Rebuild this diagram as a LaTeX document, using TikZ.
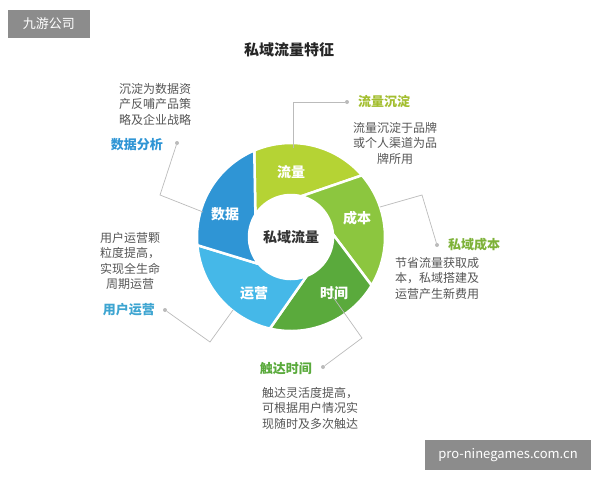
\documentclass[tikz,border=0pt]{standalone}
\usepackage{fontspec}
\setmainfont{Noto Sans CJK SC}
\usetikzlibrary{calc}
\definecolor{cA}{HTML}{B5D334}
\definecolor{cB}{HTML}{8CC63F}
\definecolor{cC}{HTML}{5AAA3C}
\definecolor{cD}{HTML}{45B8E8}
\definecolor{cE}{HTML}{2F95D5}
\definecolor{txt}{HTML}{555555}
\definecolor{lnc}{HTML}{BBBBBB}
\begin{document}
\begin{tikzpicture}[x=1pt,y=-1pt,
  body/.style={text=txt,font=\fontsize{12}{15.5}\selectfont,align=center,inner sep=0},
  lab/.style={font=\fontsize{13}{15}\selectfont\bfseries,inner sep=0},
  seg/.style={font=\fontsize{14}{15}\selectfont\bfseries,text=white,inner sep=0},
  call/.style={draw=lnc,line width=0.7pt},
  dotc/.style={circle,fill=lnc,inner sep=0,minimum size=4pt}]
\useasboundingbox (0,0) rectangle (600,480);
\coordinate (c) at (291,237);
\def\R{94}\def\r{42}
\foreach \pa/\pb/\col in {-113/-41/cA,-41/31/cB,31/103/cC,103/175/cD,175/247/cE}{
  \pgfmathsetmacro\ia{\pb-35}\pgfmathsetmacro\ib{\pa-35}
  \filldraw[fill=\col,draw=white,line width=2.5pt,line join=round]
    ($(c)+(\pa:\R)$) arc[start angle=\pa,end angle=\pb,radius=\R]
    -- ($(c)+(\ia:\r)$) arc[start angle=\ia,end angle=\ib,radius=\r] -- cycle;
}
\node[font=\fontsize{14}{15}\selectfont\bfseries,text=black!80] (ctr) at (291,237) {私域流量};
\node[seg] (s1) at (291,172) {流量};
\node[seg] (s2) at (357,218) {成本};
\node[seg] (s3) at (334,293) {时间};
\node[seg] (s4) at (254,293) {运营};
\node[seg] (s5) at (225,214) {数据};
\node[font=\fontsize{15}{18}\selectfont\bfseries,text=black!85] (title) at (289,50) {私域流量特征};
\node[fill=black!45,text=white,font=\fontsize{13}{15}\selectfont,minimum width=82pt,minimum height=28pt,inner sep=0] (wm1) at (49,24) {九游公司};
\node[fill=black!45,text=white,font=\fontsize{13}{15}\selectfont,minimum width=166pt,minimum height=30pt,inner sep=0] (wm2) at (508,455) {pro-ninegames.com.cn};
\node[dotc] (d1) at (347,102) {};
\node[lab,text=cA!90!black,anchor=west] (l1) at (358,102) {流量沉淀};
\coordinate (e1) at (293,148);
\draw[call] (e1) |- (d1);
\node[body,anchor=north] (t1) at (395,122) {流量沉淀于品牌\\或个人渠道为品\\牌所用};
\node[dotc] (d2) at (437,245) {};
\node[lab,text=cB!90!black,anchor=west] (l2) at (448,245) {私域成本};
\coordinate (e2) at (380,207); \coordinate (k2) at (422,195);
\draw[call] (e2) -- (k2) -- (d2);
\node[body,anchor=north] (t2) at (437,257) {节省流量获取成\\本，私域搭建及\\运营产生新费用};
\node[dotc] (d3) at (323,367) {};
\node[lab,text=cC,anchor=east] (l3) at (312,369) {触达时间};
\coordinate (e3) at (333,297); \coordinate (k3) at (362,338);
\draw[call] (e3) -- (k3) -- (d3);
\node[body,anchor=north] (t3) at (310,387) {触达灵活度提高，\\可根据用户情况实\\现随时及多次触达};
\node[dotc] (d4) at (177,143) {};
\node[lab,text=cE,anchor=east] (l4) at (163,145) {数据分析};
\coordinate (e4) at (203,212); \coordinate (k4) at (160,195);
\draw[call] (d4) -- (k4) -- (e4);
\node[body,anchor=north] (t4) at (155,83) {沉淀为数据资\\产反哺产品策\\略及企业战略};
\node[dotc] (d5) at (165,310) {};
\node[lab,text=cD!90!black,anchor=east] (l5) at (155,310) {用户运营};
\coordinate (e5) at (233,310); \coordinate (k5) at (210,342);
\draw[call] (d5) -- (k5) -- (e5);
\node[body,anchor=north] (t5) at (130,232) {用户运营颗\\粒度提高，\\实现全生命\\周期运营};
\end{tikzpicture}
\end{document}
